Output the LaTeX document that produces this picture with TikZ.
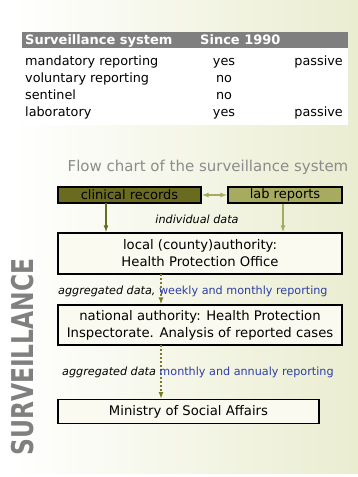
\documentclass[tikz,border=0pt]{standalone}
\usepackage{fontspec}
\setmainfont{DejaVu Sans}
\usepackage{graphicx}
\usetikzlibrary{positioning, arrows.meta}
\definecolor{darkolive}{RGB}{107,107,32}
\definecolor{lightolive}{RGB}{166,171,96}
\definecolor{dotolive}{RGB}{122,122,42}
\definecolor{headgray}{RGB}{127,127,127}
\definecolor{titlegray}{RGB}{140,140,140}
\definecolor{letgray}{RGB}{128,128,128}
\definecolor{linkblue}{RGB}{45,62,165}
\definecolor{bgolive}{RGB}{234,237,208}
\definecolor{boxfill}{RGB}{250,250,240}
\tikzset{
    x=1pt, y=-1pt, % one unit is one pixel of the slide, counted downwards
    >={Latex[length=7pt,width=5pt]}, % arrow heads
    box/.style={draw=black, line width=1.2pt, fill=boxfill, inner sep=0pt, align=center, font=\fontsize{13.2}{17}\selectfont}, % the three authorities
    source/.style={draw=black, line width=1.2pt, inner sep=0pt, minimum height=16pt, font=\fontsize{13}{15}\selectfont}, % where the data come from
    cell/.style={inner sep=0pt, anchor=base west, font=\fontsize{12.8}{15}\selectfont}, % table entries
    flowlabel/.style={inner sep=0pt, anchor=base west, font=\fontsize{11.2}{13}\selectfont}, % text on the arrows
    feed/.style={->, line width=2pt}, % individual data
    passon/.style={->, dotted, line width=2pt, draw=dotolive, color=dotolive}, % aggregated data
}

\begin{document}
\begin{tikzpicture}
\useasboundingbox (0,0) rectangle (358,477);
\shade[left color=white, right color=bgolive] (10,0) rectangle (358,473);

% the table
\fill[headgray] (22,32) rectangle (348,48);
\fill[white] (22,48) rectangle (348,125);
\node[cell, text=white, font=\fontsize{13}{15}\selectfont\bfseries] (hsys) at (25,44) {Surveillance system};
\node[cell, text=white, font=\fontsize{13}{15}\selectfont\bfseries] (hsince) at (200,44) {Since 1990};
\node[cell] (mand) at (25,65) {mandatory reporting};
\node[cell] (vol) at (25,82) {voluntary reporting};
\node[cell] (sent) at (25,99) {sentinel};
\node[cell] (lab) at (25,116.5) {laboratory};
\node[cell, anchor=base] (mandyes) at (224,65) {yes};
\node[cell, anchor=base] (volno) at (224,82) {no};
\node[cell, anchor=base] (sentno) at (224,99) {no};
\node[cell, anchor=base] (labyes) at (224,116.5) {yes};
\node[cell, anchor=base east] (mandpas) at (343,65) {passive};
\node[cell, anchor=base east] (labpas) at (343,116.5) {passive};

% the flow chart
\node[text=titlegray, inner sep=0pt, font=\fontsize{15}{18}\selectfont] (title) at (208,167) {Flow chart of the surveillance system};
\node[source, fill=darkolive, minimum width=143pt] (clin) at (129.5,195) {clinical records};
\node[source, fill=lightolive, minimum width=114pt] (labrep) at (285,195) {lab reports};
\node[box, minimum width=284pt, minimum height=41pt] (local) at (200,253.5) {local (county)authority:\\Health Protection Office};
\node[box, minimum width=284pt, minimum height=40pt] (national) at (200,325) {national authority: Health Protection\\Inspectorate. Analysis of reported cases};
\node[box, minimum width=261pt, minimum height=24pt, anchor=north west] (ministry) at (national.south west |- 0,399) {Ministry of Social Affairs};

\coordinate (clinout) at (106,203);
\coordinate (localout) at (161,274);
\coordinate (natout) at (161,345);
\draw[<->, line width=2pt, lightolive] (clin) -- (labrep);
\draw[feed, darkolive] (clinout) -- (clinout |- local.north);
\draw[feed, lightolive] ([xshift=-2pt]labrep.south) -- ([xshift=-2pt]labrep.south |- local.north);
\draw[passon] (localout) -- (localout |- national.north);
\draw[passon] (natout) -- (natout |- ministry.north);

\node[flowlabel, anchor=center, font=\fontsize{11.2}{13}\selectfont\itshape] (indiv) at (197,219) {individual data};
\node[flowlabel] (weekly) at (58,294) {\textit{aggregated data,} \textcolor{linkblue}{weekly and monthly reporting}};
\node[flowlabel] (monthly) at (62,375) {\textit{aggregated data} \textcolor{linkblue}{monthly and annualy reporting}};

\node[rotate=90, text=letgray, inner sep=0pt] (surv) at (23,357) {\scalebox{0.78}[1]{\fontsize{30}{30}\selectfont\bfseries SURVEILLANCE}};
\end{tikzpicture}
\end{document}
